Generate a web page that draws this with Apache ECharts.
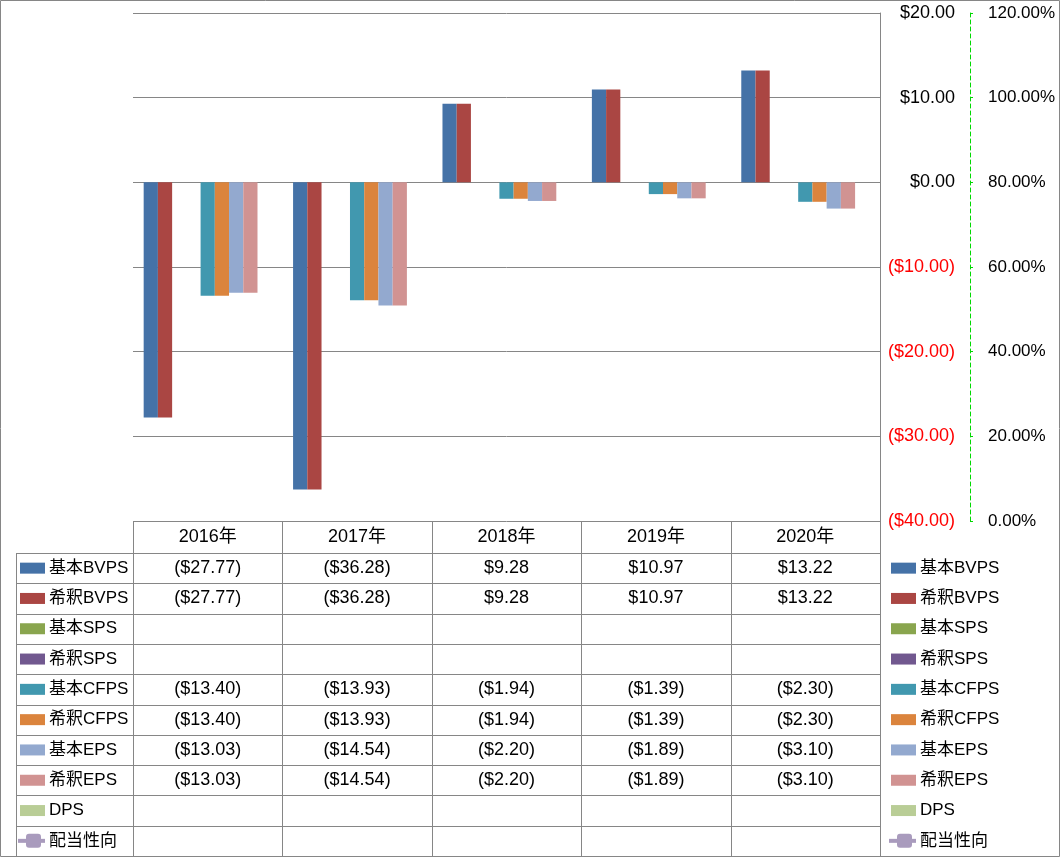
<!DOCTYPE html>
<html><head><meta charset="utf-8">
<script src="https://cdn.jsdelivr.net/npm/echarts@6/dist/echarts.min.js"></script>
<style>html,body{margin:0;padding:0;background:#fff}#c{width:1061px;height:858px}</style>
</head><body><div id="c"></div>
<script>
// ---- data ----
const categories = ['2016年','2017年','2018年','2019年','2020年'];
const seriesNames = ['基本BVPS','希釈BVPS','基本SPS','希釈SPS','基本CFPS','希釈CFPS','基本EPS','希釈EPS','DPS','配当性向'];
const basicBVPS   = [-27.77, -36.28, 9.28, 10.97, 13.22];
const dilutedBVPS = [-27.77, -36.28, 9.28, 10.97, 13.22];
const basicSPS    = [null, null, null, null, null];
const dilutedSPS  = [null, null, null, null, null];
const basicCFPS   = [-13.40, -13.93, -1.94, -1.39, -2.30];
const dilutedCFPS = [-13.40, -13.93, -1.94, -1.39, -2.30];
const basicEPS    = [-13.03, -14.54, -2.20, -1.89, -3.10];
const dilutedEPS  = [-13.03, -14.54, -2.20, -1.89, -3.10];
const dps         = [null, null, null, null, null];
const payoutRatio = [null, null, null, null, null];
const leftAxisTicks = [-40, -30, -20, -10, 0, 10, 20];
const pctAxisTicks = [0, 20, 40, 60, 80, 100, 120];

const allData = [basicBVPS, dilutedBVPS, basicSPS, dilutedSPS, basicCFPS, dilutedCFPS, basicEPS, dilutedEPS, dps, payoutRatio];
const colors = ['#4572A7','#AA4643','#89A54E','#71588F','#4198AF','#DB843D','#93A9CF','#D19392','#B9CD96','#A99BBD'];

// ---- layout ----
const W = 1061, H = 858;
const gL = 133, gR = 880, gT = 13, gB = 521;
const headerBottom = 553, tableBottom = 856, tableLeft = 16;
const rowH = (tableBottom - headerBottom) / seriesNames.length;
const lineC = '#868686';
const FONT = '"Liberation Sans","Noto Sans CJK JP",sans-serif';
const FS = 18;     // values and axis labels
const FSL = 17;    // row labels

function fmtMoney(v){
  if (v === null || v === undefined) return '';
  return v < 0 ? '($' + Math.abs(v).toFixed(2) + ')' : '$' + v.toFixed(2);
}

const series = seriesNames.map((n, i) => {
  if (i === seriesNames.length - 1) {
    return {name:n, type:'line', yAxisIndex:1, data: allData[i], itemStyle:{color:colors[i]}, lineStyle:{color:colors[i]}};
  }
  return {name:n, type:'bar', data: allData[i], itemStyle:{color:colors[i]}, barGap:'0%', barCategoryGap:'14.29%'};
});

const g = [];
function hline(x1,x2,y){ g.push({type:'line', shape:{x1:x1,y1:y,x2:x2,y2:y}, style:{stroke:lineC, lineWidth:1}, silent:true}); }
function vline(x,y1,y2){ g.push({type:'line', shape:{x1:x,y1:y1,x2:x,y2:y2}, style:{stroke:lineC, lineWidth:1}, silent:true}); }

// outer frame
g.push({type:'rect', shape:{x:0.5,y:0.5,width:1059,height:856}, style:{fill:null, stroke:lineC, lineWidth:1}, silent:true});
const colW = (gR - gL) / categories.length;
// header
vline(gL + 0.5, gB, tableBottom);
for (let c = 1; c < categories.length; c++) vline(Math.round(gL + c*colW) + 0.5, gB, tableBottom);
vline(gR + 0.5, gB, tableBottom);
vline(tableLeft + 0.5, headerBottom, tableBottom);
for (let r = 0; r <= seriesNames.length; r++) hline(tableLeft, gR, Math.round(headerBottom + r*rowH) + 0.5);
categories.forEach((c, i) => {
  g.push({type:'text', x: gL + (i+0.5)*colW, y:(gB+headerBottom)/2, style:{text:c, font: FS+'px '+FONT, fill:'#000', textAlign:'center', textVerticalAlign:'middle'}, silent:true});
});
// rows
seriesNames.forEach((n, r) => {
  const cy = headerBottom + (r+0.5)*rowH;
  [[20, 49],[891, 920]].forEach(([sx, tx]) => {
    if (r === seriesNames.length - 1) {
      g.push({type:'line', shape:{x1:sx-2,y1:cy,x2:sx+25,y2:cy}, style:{stroke:colors[r], lineWidth:4}, silent:true});
      g.push({type:'rect', shape:{x:sx+6,y:cy-7,width:15,height:14,r:3}, style:{fill:colors[r]}, silent:true});
    } else {
      g.push({type:'rect', shape:{x:sx,y:cy-5.5,width:25,height:11}, style:{fill:colors[r]}, silent:true});
    }
    g.push({type:'text', x:tx, y:cy, style:{text:n, font: FSL+'px '+FONT, fill:'#000', textAlign:'left', textVerticalAlign:'middle'}, silent:true});
  });
  allData[r].forEach((v, i) => {
    const t = fmtMoney(v);
    if (t) g.push({type:'text', x: gL + (i+0.5)*colW, y: cy, style:{text:t, font: FS+'px '+FONT, fill:'#000', textAlign:'center', textVerticalAlign:'middle'}, silent:true});
  });
});

const chart = echarts.init(document.getElementById('c'), null, {renderer:'canvas'});
chart.setOption({
  animation:false,
  backgroundColor:'#fff',
  grid:{left:gL, right:W-gR, top:gT, bottom:H-gB, containLabel:false},
  xAxis:{type:'category', data:categories, axisLine:{show:false}, axisTick:{show:false}, axisLabel:{show:false}, splitLine:{show:false}},
  yAxis:[
    {type:'value', position:'right', min:leftAxisTicks[0], max:leftAxisTicks[leftAxisTicks.length-1], interval:10,
     axisLine:{show:true, lineStyle:{color:lineC, width:1}}, axisTick:{show:false},
     splitLine:{show:true, lineStyle:{color:lineC, width:1}},
     axisLabel:{margin:75, align:'right', fontFamily:FONT, fontSize:FS, color:'#000',
       formatter: v => v < 0 ? '{n|' + fmtMoney(v) + '}' : fmtMoney(v),
       rich:{n:{color:'#FF0000', fontFamily:FONT, fontSize:FS}}}},
    {type:'value', position:'right', offset:90, min:pctAxisTicks[0], max:pctAxisTicks[pctAxisTicks.length-1], interval:20,
     axisLine:{show:true, lineStyle:{color:'#00D800', width:1, type:[4,3]}},
     axisTick:{show:true, length:3, lineStyle:{color:'#00D800'}},
     splitLine:{show:false},
     axisLabel:{margin:18, fontFamily:FONT, fontSize:FSL, color:'#000', formatter: v => v.toFixed(2) + '%'}}
  ],
  series: series,
  graphic: g
});
</script></body></html>
